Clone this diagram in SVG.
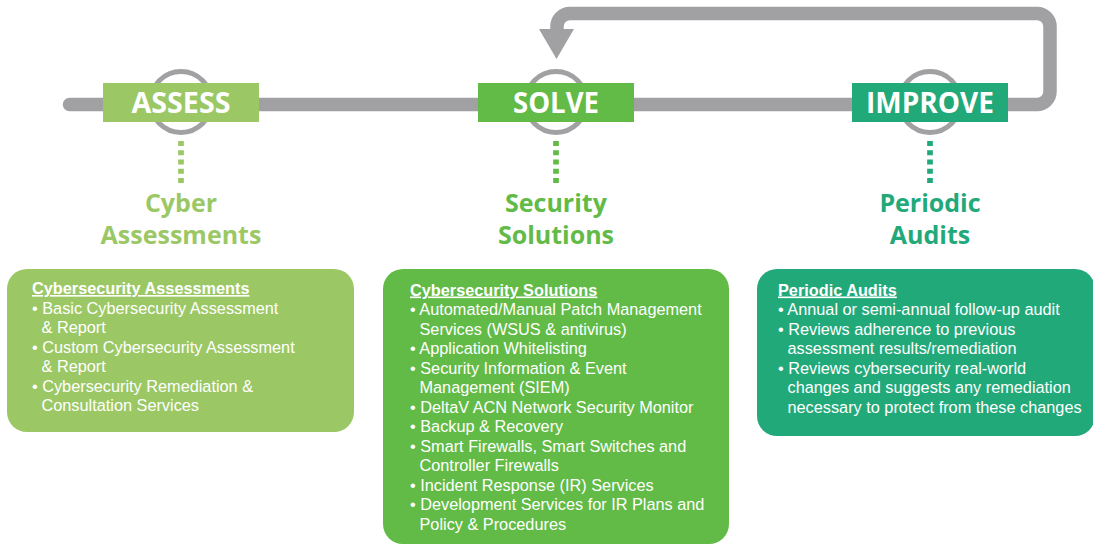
<svg xmlns="http://www.w3.org/2000/svg" width="1093" height="545" viewBox="0 0 1093 545">
<style>
.lbl{font-family:"Open Sans","Liberation Sans",sans-serif;font-weight:700;font-size:29px;fill:#fff;text-anchor:middle}
.sub{font-family:"Open Sans","Liberation Sans",sans-serif;font-weight:700;font-size:25px;text-anchor:middle}
.body{font-family:"Liberation Sans",Arial,sans-serif;font-size:16.3px;fill:#fff}
.hd{font-weight:700;text-decoration:underline}
.ring{fill:none;stroke:#a1a1a4;stroke-width:5}
.dots{stroke-width:5.7;stroke-dasharray:5 4.25}
.c1{fill:#9bc865}.c2{fill:#62bb46}.c3{fill:#22a97a}
</style>
<g id="connectors">
<path d="M69.5 104.5 H1037 A13 13 0 0 0 1050 91.5 V26.5 A13 13 0 0 0 1037 13.5 H570 A13 13 0 0 0 557 26.5 V32" fill="none" stroke="#a1a1a4" stroke-width="13.5" stroke-linecap="round"/>
<polygon points="539,29 574,29 556.5,59" fill="#a1a1a4"/>
<line class="dots" x1="181" y1="141" x2="181" y2="183" stroke="#9bc865"/>
<line class="dots" x1="556" y1="141" x2="556" y2="183" stroke="#62bb46"/>
<line class="dots" x1="930" y1="141" x2="930" y2="183" stroke="#22a97a"/>
</g>
<g id="assess">
<circle class="ring" cx="181" cy="102" r="30.5"/>
<rect class="c1" x="103" y="83" width="156" height="39"/>
<text class="lbl" x="181" y="113" textLength="99" lengthAdjust="spacingAndGlyphs">ASSESS</text>
</g>
<g id="solve">
<circle class="ring" cx="556" cy="102" r="30.5"/>
<rect class="c2" x="478" y="83" width="156" height="39"/>
<text class="lbl" x="556" y="113" textLength="86" lengthAdjust="spacingAndGlyphs">SOLVE</text>
</g>
<g id="improve">
<circle class="ring" cx="930" cy="102" r="30.5"/>
<rect class="c3" x="852" y="83" width="156" height="39"/>
<text class="lbl" x="930" y="113" textLength="128" lengthAdjust="spacingAndGlyphs">IMPROVE</text>
</g>
<g id="cyber-assessments">
<text class="sub c1" x="181" y="212">Cyber</text>
<text class="sub c1" x="181" y="244">Assessments</text>
</g>
<g id="security-solutions">
<text class="sub c2" x="556" y="212">Security</text>
<text class="sub c2" x="556" y="244">Solutions</text>
</g>
<g id="periodic-audits">
<text class="sub c3" x="930" y="212">Periodic</text>
<text class="sub c3" x="930" y="244">Audits</text>
</g>
<g id="box-assess">
<rect class="c1" x="7" y="269" width="347" height="163" rx="20"/>
<text class="body">
<tspan class="hd" x="32" y="294">Cybersecurity Assessments</tspan>
<tspan x="32" y="313.5">• Basic Cybersecurity Assessment</tspan>
<tspan x="41.5" y="333">&amp; Report</tspan>
<tspan x="32" y="352.5">• Custom Cybersecurity Assessment</tspan>
<tspan x="41.5" y="372">&amp; Report</tspan>
<tspan x="32" y="391.5">• Cybersecurity Remediation &amp;</tspan>
<tspan x="41.5" y="411">Consultation Services</tspan>
</text>
</g>
<g id="box-solve">
<rect class="c2" x="383" y="269" width="346" height="275" rx="20"/>
<text class="body">
<tspan class="hd" x="410" y="295.5">Cybersecurity Solutions</tspan>
<tspan x="410" y="315">• Automated/Manual Patch Management</tspan>
<tspan x="419.5" y="334.5">Services (WSUS &amp; antivirus)</tspan>
<tspan x="410" y="354">• Application Whitelisting</tspan>
<tspan x="410" y="373.5">• Security Information &amp; Event</tspan>
<tspan x="419.5" y="393">Management (SIEM)</tspan>
<tspan x="410" y="412.5">• DeltaV ACN Network Security Monitor</tspan>
<tspan x="410" y="432">• Backup &amp; Recovery</tspan>
<tspan x="410" y="451.5">• Smart Firewalls, Smart Switches and</tspan>
<tspan x="419.5" y="471">Controller Firewalls</tspan>
<tspan x="410" y="490.5">• Incident Response (IR) Services</tspan>
<tspan x="410" y="510">• Development Services for IR Plans and</tspan>
<tspan x="419.5" y="529.5">Policy &amp; Procedures</tspan>
</text>
</g>
<g id="box-improve">
<rect class="c3" x="757" y="269" width="338" height="167" rx="20"/>
<text class="body">
<tspan class="hd" x="778" y="295.5">Periodic Audits</tspan>
<tspan x="778" y="315">• Annual or semi-annual follow-up audit</tspan>
<tspan x="778" y="334.5">• Reviews adherence to previous</tspan>
<tspan x="787.5" y="354">assessment results/remediation</tspan>
<tspan x="778" y="373.5">• Reviews cybersecurity real-world</tspan>
<tspan x="787.5" y="393">changes and suggests any remediation</tspan>
<tspan x="787.5" y="412.5">necessary to protect from these changes</tspan>
</text>
</g>
</svg>
